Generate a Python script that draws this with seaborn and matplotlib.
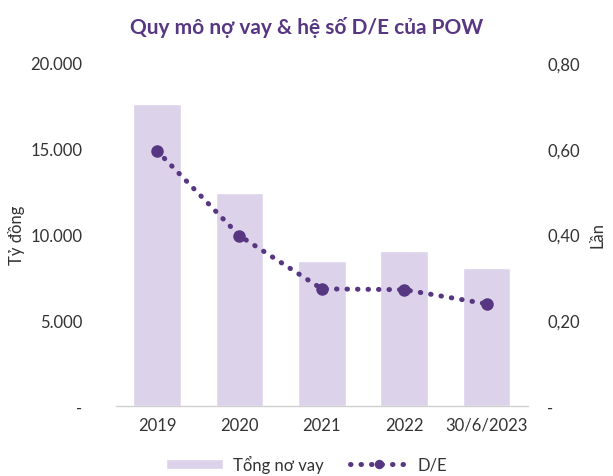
import pandas as pd
import matplotlib.pyplot as plt
import seaborn as sns
from matplotlib.ticker import FuncFormatter

# data
periods = ["2019", "2020", "2021", "2022", "30/6/2023"]
total_debt = [17600, 12400, 8450, 9050, 8050]
de_ratio = [0.595, 0.397, 0.273, 0.271, 0.238]

bar_color = "#DCD2EA"
line_color = "#573682"
text_color = "#333333"

sns.set_theme(style="white")
plt.rcParams["font.family"] = ["Lato", "DejaVu Sans"]

df = pd.DataFrame({"period": periods, "debt": total_debt, "de": de_ratio})

fig = plt.figure(figsize=(6.13, 4.77), dpi=100)
ax = fig.add_axes([0.189, 0.147, 0.672, 0.719])

sns.barplot(data=df, x="period", y="debt", color=bar_color, width=0.58,
            saturation=1, ax=ax, label="Tổng nơ vay")
ax.set_xlim(-0.5, 4.5)
ax.set_ylim(0, 20000)
ax.set_yticks([0, 5000, 10000, 15000, 20000])


def fmt_thousands(v, pos):
    if v == 0:
        return "-"
    return f"{v:,.0f}".replace(",", ".")


ax.yaxis.set_major_formatter(FuncFormatter(fmt_thousands))
ax.set_xlabel("")
ax.set_ylabel("Tỷ đồng", fontsize=12, color=text_color, labelpad=4)
ax.tick_params(axis="both", labelsize=12, colors=text_color, length=0)
ax.tick_params(axis="y", pad=24)
ax.tick_params(axis="x", pad=8)
for s in ["top", "right", "left"]:
    ax.spines[s].set_visible(False)
ax.spines["bottom"].set_color("#d0d0d0")
ax.spines["bottom"].set_linewidth(1)

ax2 = ax.twinx()
sns.lineplot(x=range(len(periods)), y=de_ratio, ax=ax2, color=line_color,
             linestyle=(0, (0.1, 2.0)), dash_capstyle="round", linewidth=3.6,
             marker="o", markersize=9, markeredgewidth=0, label="D/E")
ax2.set_ylim(0, 0.8)
ax2.set_yticks([0, 0.2, 0.4, 0.6, 0.8])


def fmt_ratio(v, pos):
    if v == 0:
        return "-"
    return f"{v:.2f}".replace(".", ",")


ax2.yaxis.set_major_formatter(FuncFormatter(fmt_ratio))
ax2.set_ylabel("Lần", fontsize=12, color=text_color, labelpad=7)
ax2.tick_params(axis="y", labelsize=12, colors=text_color, length=0, pad=14)
for s in ax2.spines.values():
    s.set_visible(False)

if ax.get_legend():
    ax.get_legend().remove()
if ax2.get_legend():
    ax2.get_legend().remove()

h1, l1 = ax.get_legend_handles_labels()
h2, l2 = ax2.get_legend_handles_labels()
fig.legend(h1 + h2, l1 + l2, loc="lower center", bbox_to_anchor=(0.5, -0.025),
           ncol=2, frameon=False, fontsize=12, handlelength=3.4,
           handleheight=0.6, handletextpad=0.6, columnspacing=1.6,
           markerscale=0.75, labelcolor=text_color)

fig.suptitle("Quy mô nợ vay & hệ số D/E của POW", x=0.5, y=0.965,
             fontsize=15, fontweight="bold", color=line_color)

fig.savefig("out.png", dpi=100)
